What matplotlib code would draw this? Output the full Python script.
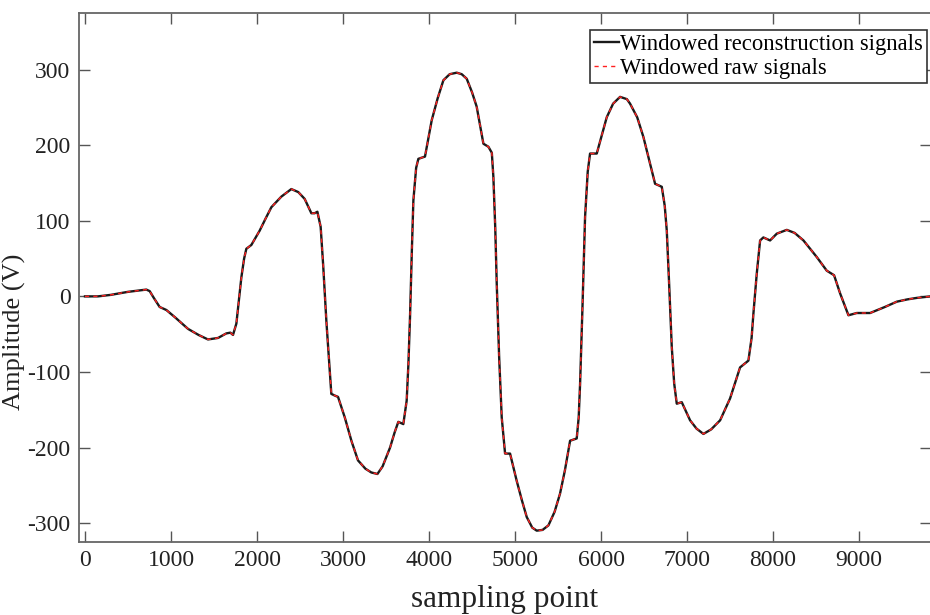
import matplotlib
matplotlib.use("Agg")
import matplotlib.pyplot as plt
import numpy as np

plt.rcParams['font.family'] = ['Liberation Serif', 'DejaVu Serif']
plt.rcParams['axes.unicode_minus'] = False

# sampling points and amplitudes
sample_idx = [0, 150, 300, 500, 713, 752, 800, 868, 946, 1050, 1198, 1320, 1430, 1547,
              1643, 1690, 1721, 1760, 1790, 1818, 1850, 1876, 1934, 2031, 2100, 2167,
              2283, 2399, 2480, 2554, 2632, 2670, 2702, 2740, 2770, 2806, 2864, 2900,
              2942, 3020, 3100, 3174, 3260, 3329, 3400, 3460, 3547, 3600, 3643, 3701,
              3740, 3760, 3779, 3800, 3818, 3850, 3876, 3953, 4031, 4100, 4167, 4240,
              4322, 4380, 4438, 4500, 4554, 4632, 4690, 4730, 4748, 4770, 4787, 4815,
              4845, 4884, 4942, 5019, 5080, 5136, 5200, 5252, 5320, 5388, 5460, 5523,
              5580, 5640, 5717, 5740, 5756, 5785, 5814, 5845, 5872, 5950, 6066, 6140,
              6221, 6300, 6337, 6420, 6492, 6560, 6628, 6706, 6740, 6764, 6790, 6822,
              6850, 6880, 6938, 7035, 7110, 7190, 7280, 7384, 7500, 7616, 7713, 7750,
              7771, 7810, 7849, 7887, 7965, 8043, 8159, 8250, 8353, 8430, 8508, 8624,
              8709, 8779, 8876, 8973, 9128, 9300, 9438, 9560, 9671, 9830]

recon_signal = [0, 0, 2, 6, 9, 7, -2, -14, -18, -28, -43, -51, -57, -55,
                -49, -48, -51, -36, -5, 25, 50, 63, 68, 87, 103, 118,
                132, 142, 138, 129, 110, 110, 112, 92, 40, -32, -129, -131,
                -133, -160, -192, -217, -228, -233, -235, -225, -200, -180, -166, -169,
                -138, -90, -27, 60, 127, 170, 182, 185, 233, 262, 286, 294,
                296, 294, 288, 270, 251, 202, 198, 190, 158, 90, 17, -80,
                -160, -208, -208, -244, -270, -292, -306, -310, -309, -303, -285, -261,
                -230, -191, -188, -160, -116, -10, 105, 165, 189, 189, 237, 255,
                264, 261, 255, 237, 211, 180, 149, 145, 120, 87, 20, -67,
                -115, -142, -140, -164, -175, -182, -176, -164, -135, -94, -85, -55,
                -23, 30, 74, 78, 74, 83, 88, 84, 74, 63, 52, 34,
                28, 4, -25, -22, -22, -14, -7, -4, -2, 0]

# raw signal is indistinguishable from the reconstruction at this scale
raw_signal = list(recon_signal)

fig = plt.figure(figsize=(9.3, 6.15), dpi=100)
ax = fig.add_axes([0.0849, 0.1187, 0.9161, 0.8602])

ax.plot(sample_idx, recon_signal, color='#1a1a1a', lw=1.7, solid_joinstyle='round',
        label='Windowed reconstruction signals')
ax.plot(sample_idx, raw_signal, color='#ff2020', lw=1.0, ls=(0, (3, 3)),
        label='Windowed raw signals')

ax.set_xlim(-70, 9835)
ax.set_ylim(-325, 375)
ax.set_xticks(np.arange(0, 9001, 1000))
ax.set_yticks(np.arange(-300, 301, 100))

ax.tick_params(direction='in', top=True, right=True, length=8, width=1.0,
               color='#555555', labelsize=17, labelcolor='#222222', pad=6)
for s in ax.spines.values():
    s.set_color('#666666')
    s.set_linewidth(1.3)

ax.set_xlabel('sampling point', fontsize=22.5, color='#222222')
ax.xaxis.set_label_coords(0.5, -0.082)
ax.set_ylabel('Amplitude (V)', fontsize=19, color='#222222')
ax.yaxis.set_label_coords(-0.062, 0.397)

leg = ax.legend(loc='upper left', bbox_to_anchor=(590 / 930, 1 - 30 / 615),
                bbox_transform=fig.transFigure, borderaxespad=0, fontsize=16.3,
                handlelength=1.1, handletextpad=0.05, labelspacing=0.12,
                borderpad=0.18, fancybox=False, framealpha=1)
leg.get_frame().set_edgecolor('#333333')
leg.get_frame().set_linewidth(1.2)

fig.savefig('out.png', dpi=100)
